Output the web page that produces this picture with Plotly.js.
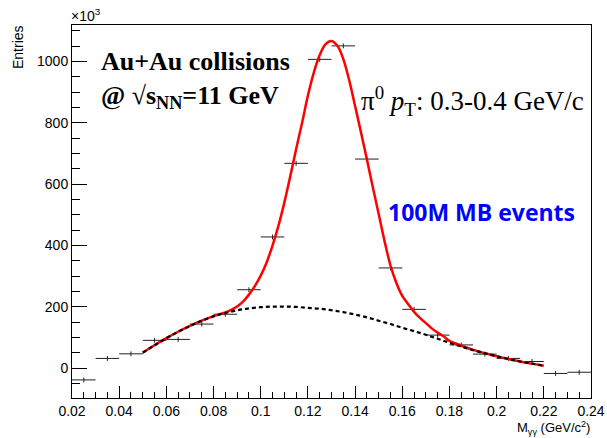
<!DOCTYPE html>
<html>
<head>
<meta charset="utf-8">
<script src="https://cdn.plot.ly/plotly-3.0.1.min.js"></script>
<style>html,body{margin:0;padding:0;background:#fff;}#chart{width:607px;height:438px;}</style>
</head>
<body>
<div id="chart"></div>
<script>
// Histogram bins (bin centres, GeV/c^2) and entries (x10^3)
const binCenters = [0.025,0.035,0.045,0.055,0.065,0.075,0.085,0.095,0.105,0.115,0.125,0.135,0.145,0.155,0.165,0.175,0.185,0.195,0.205,0.215,0.225,0.235];
const binEntries = [-38,32,47,91,94,144,176,256,428,668,1007,1051,682,327,192,108,76,46,32,22,-17,-13];
const binHalfWidth = 0.005;
const binError = 8;

// Fit curve (signal + background)
const fitX = [0.050,0.055,0.060,0.065,0.070,0.075,0.080,0.0825,0.085,0.0875,0.090,0.0925,0.095,0.0975,0.100,0.1025,0.105,0.1075,0.110,0.1125,0.115,0.1175,0.120,0.1225,0.125,0.1275,0.130,0.1325,0.135,0.1375,0.140,0.1425,0.145,0.1475,0.150,0.1525,0.155,0.1575,0.160,0.1625,0.165,0.1675,0.170,0.1725,0.175,0.1775,0.180,0.185,0.190,0.195,0.200,0.205,0.210,0.215,0.220];
const fitY = [51,75,98,119,138,155,170,176,182,190,201,217,240,268,302,345,400,464,540,625,714,799,889,964,1021,1057,1067,1051,1008,939,855,769,681,591,503,414,335,278,236,209,184,164,147,130,116,104,89,74,60,49,39,30,22,15,8];

// Background curve, values
const bkgX = [0.050,0.055,0.060,0.065,0.070,0.075,0.080,0.085,0.090,0.095,0.100,0.105,0.110,0.115,0.120,0.125,0.130,0.135,0.140,0.145,0.150,0.155,0.160,0.165,0.170,0.175,0.180,0.185,0.190,0.195,0.200,0.205,0.210,0.215,0.220];
const bkgY = [51,75,98,119,138,155,169,180,189,195,199,201,201,200,197,194,189,183,175,166,155,144,132,121,109,96,83,71,59,49,39,30,22,15,8];

const xTickVals = [0.02,0.04,0.06,0.08,0.10,0.12,0.14,0.16,0.18,0.20,0.22,0.24];
const xTickText = ['0.02','0.04','0.06','0.08','0.1','0.12','0.14','0.16','0.18','0.2','0.22','0.24'];
const yTickVals = [0,200,400,600,800,1000];
const yTickText = ['0','200','400','600','800','1000'];

// plot-area pixel box
const L = 72, R = 591, T = 25, B = 398;
const px = x => (x - L) / (R - L);
const py = y => (B - y) / (B - T);

const traces = [
  {
    x: binCenters, y: binEntries, type: 'scatter', mode: 'markers',
    marker: {size: 1, color: 'rgba(0,0,0,0)'},
    error_x: {type: 'constant', value: binHalfWidth, width: 0, thickness: 1, color: '#222'},
    error_y: {type: 'constant', value: binError, width: 0, thickness: 1, color: '#222'},
    hoverinfo: 'skip', showlegend: false
  },
  {
    x: fitX, y: fitY, type: 'scatter', mode: 'lines',
    line: {color: '#ff0000', width: 2.5, shape: 'spline', smoothing: 1},
    showlegend: false
  },
  {
    x: bkgX, y: bkgY, type: 'scatter', mode: 'lines',
    line: {color: '#000000', width: 2.2, dash: '4px,3px', shape: 'spline'},
    showlegend: false
  }
];

const serif = 'Liberation Serif, Times New Roman, serif';
const sans = 'Liberation Sans, Arial, sans-serif';

const layout = {
  width: 607, height: 438,
  margin: {l: L, r: 607 - R, t: T, b: 438 - B, pad: 0},
  paper_bgcolor: '#ffffff', plot_bgcolor: '#ffffff',
  showlegend: false,
  xaxis: {
    range: [0.02, 0.24], tickvals: xTickVals, ticktext: xTickText,
    ticks: 'inside', ticklen: 12, tickwidth: 1, tickcolor: '#000',
    minor: {dtick: 0.005, tick0: 0.02, ticks: 'inside', ticklen: 6, tickwidth: 1, tickcolor: '#000', showgrid: false},
    showline: true, mirror: true, linecolor: '#000', linewidth: 1,
    showgrid: false, zeroline: false,
    tickfont: {family: sans, size: 14, color: '#000'}
  },
  yaxis: {
    range: [-97, 1119], tickvals: yTickVals, ticktext: yTickText,
    ticks: 'inside', ticklen: 15, tickwidth: 1, tickcolor: '#000',
    minor: {dtick: 50, tick0: 0, ticks: 'inside', ticklen: 7.5, tickwidth: 1, tickcolor: '#000', showgrid: false},
    showline: true, mirror: true, linecolor: '#000', linewidth: 1,
    showgrid: false, zeroline: false,
    tickfont: {family: sans, size: 14, color: '#000'}
  },
  annotations: [
    {xref: 'paper', yref: 'paper', x: px(69), y: py(26), xanchor: 'left', yanchor: 'bottom',
     text: '×10<sup>3</sup>', showarrow: false, font: {family: sans, size: 14, color: '#000'}},
    {xref: 'paper', yref: 'paper', x: px(18), y: py(47), xanchor: 'center', yanchor: 'middle', textangle: -90,
     text: 'Entries', showarrow: false, font: {family: sans, size: 14, color: '#000'}},
    {xref: 'paper', yref: 'paper', x: px(591), y: py(437.5), xanchor: 'right', yanchor: 'bottom', borderpad: 0,
     text: 'M<sub>γγ</sub> (GeV/c<sup>2</sup>)', showarrow: false, font: {family: sans, size: 13, color: '#000'}},
    {xref: 'paper', yref: 'paper', x: px(99), y: py(62), xanchor: 'left', yanchor: 'middle',
     text: '<b>Au+Au collisions</b>', showarrow: false, font: {family: serif, size: 26, color: '#000'}},
    {xref: 'paper', yref: 'paper', x: px(99), y: py(97), xanchor: 'left', yanchor: 'middle',
     text: '<b>@ √s<sub>NN</sub>=11 GeV</b>', showarrow: false, font: {family: serif, size: 26, color: '#000'}},
    {xref: 'paper', yref: 'paper', x: px(359), y: py(101), xanchor: 'left', yanchor: 'middle',
     text: 'π<sup>0</sup> <i>p</i><sub>T</sub>: 0.3-0.4 GeV/c', showarrow: false, font: {family: serif, size: 27, color: '#000'}},
    {xref: 'paper', yref: 'paper', x: px(386), y: py(212), xanchor: 'left', yanchor: 'middle',
     text: '<b>100M MB events</b>', showarrow: false, font: {family: 'Open Sans, sans-serif', size: 23, color: '#0000ff'}}
  ]
};

Plotly.newPlot('chart', traces, layout, {staticPlot: true, displayModeBar: false});
</script>
</body>
</html>
